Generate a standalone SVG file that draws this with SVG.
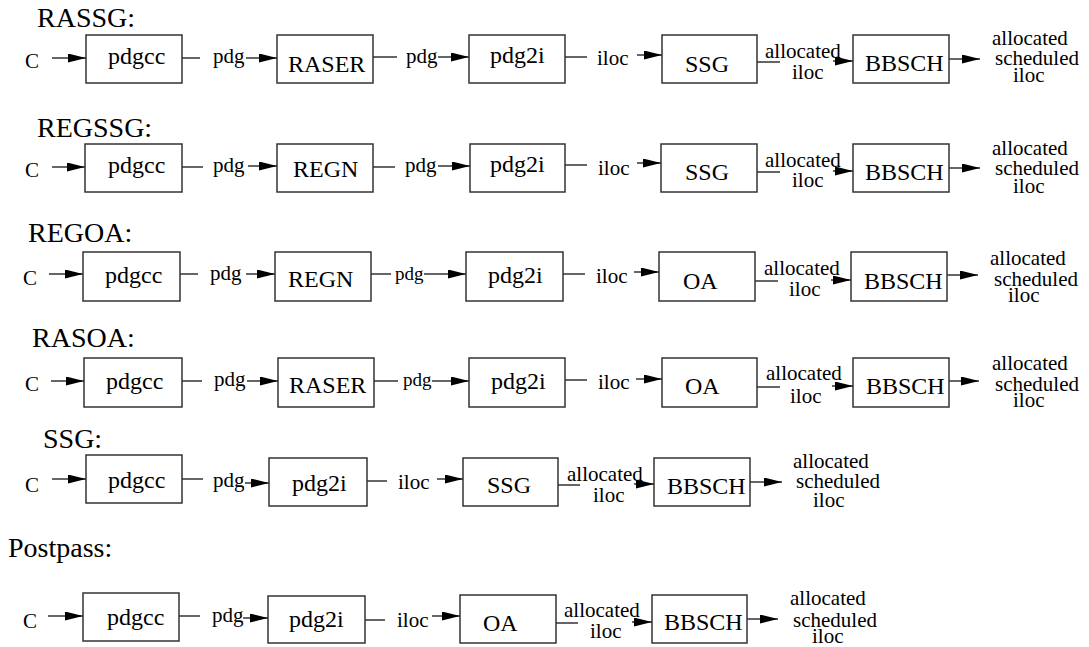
<svg xmlns="http://www.w3.org/2000/svg" width="1089" height="647" viewBox="0 0 1089 647">
<style>
text{font-family:"Liberation Serif","Times New Roman",serif;fill:#000}
.t{font-size:28px}
.n{font-size:24px}
.l{font-size:21px}
.s{font-size:19px}
rect{fill:#fff;stroke:#333;stroke-width:1.5}
.c line,.c path{stroke:#333;stroke-width:1.5;fill:none}
.a{marker-end:url(#ah)}
</style>
<defs>
<marker id="ah" markerWidth="18" markerHeight="9" refX="18" refY="4.5" orient="auto" markerUnits="userSpaceOnUse">
<path d="M0,0 L18,4.5 L0,9 z" fill="#000"/>
</marker>
</defs>
<rect x="0" y="0" width="1089" height="647" style="stroke:none;fill:#fff"/>

<!-- titles -->
<g id="titles">
<text class="t" x="37" y="27">RASSG:</text>
<text class="t" x="37" y="137">REGSSG:</text>
<text class="t" x="28" y="242">REGOA:</text>
<text class="t" x="32" y="347">RASOA:</text>
<text class="t" x="43" y="448">SSG:</text>
<text class="t" x="8" y="557">Postpass:</text>
</g>

<!-- Row 1 RASSG -->
<g id="r1-pdgcc"><rect x="86" y="35" width="96" height="48"/><text class="n" x="108" y="64">pdgcc</text></g>
<g id="r1-raser"><rect x="277" y="35" width="96" height="48"/><text class="n" x="288" y="72">RASER</text></g>
<g id="r1-pdg2i"><rect x="469" y="35" width="96" height="48"/><text class="n" x="490" y="63">pdg2i</text></g>
<g id="r1-ssg"><rect x="662" y="35" width="95" height="48"/><text class="n" x="685" y="72">SSG</text></g>
<g id="r1-bbsch"><rect x="853" y="35" width="96" height="48"/><text class="n" x="865" y="71">BBSCH</text></g>

<!-- Row 2 REGSSG -->
<g id="r2-pdgcc"><rect x="85" y="144" width="97" height="48"/><text class="n" x="108" y="173">pdgcc</text></g>
<g id="r2-regn"><rect x="277" y="144" width="96" height="48"/><text class="n" x="293" y="177">REGN</text></g>
<g id="r2-pdg2i"><rect x="470" y="144" width="95" height="48"/><text class="n" x="490" y="172">pdg2i</text></g>
<g id="r2-ssg"><rect x="661" y="144" width="96" height="48"/><text class="n" x="685" y="180">SSG</text></g>
<g id="r2-bbsch"><rect x="853" y="144" width="96" height="48"/><text class="n" x="865" y="180">BBSCH</text></g>

<!-- Row 3 REGOA -->
<g id="r3-pdgcc"><rect x="83" y="252" width="97" height="49"/><text class="n" x="105" y="283">pdgcc</text></g>
<g id="r3-regn"><rect x="275" y="252" width="96" height="49"/><text class="n" x="288" y="287">REGN</text></g>
<g id="r3-pdg2i"><rect x="466" y="252" width="97" height="49"/><text class="n" x="488" y="283">pdg2i</text></g>
<g id="r3-oa"><rect x="659" y="252" width="96" height="49"/><text class="n" x="683" y="289">OA</text></g>
<g id="r3-bbsch"><rect x="851" y="252" width="96" height="49"/><text class="n" x="864" y="289">BBSCH</text></g>

<!-- Row 4 RASOA -->
<g id="r4-pdgcc"><rect x="84" y="358" width="98" height="49"/><text class="n" x="106" y="389">pdgcc</text></g>
<g id="r4-raser"><rect x="278" y="358" width="96" height="49"/><text class="n" x="289" y="393">RASER</text></g>
<g id="r4-pdg2i"><rect x="469" y="358" width="96" height="49"/><text class="n" x="491" y="389">pdg2i</text></g>
<g id="r4-oa"><rect x="662" y="358" width="95" height="49"/><text class="n" x="685" y="394">OA</text></g>
<g id="r4-bbsch"><rect x="853" y="358" width="96" height="49"/><text class="n" x="866" y="394">BBSCH</text></g>

<!-- Row 5 SSG -->
<g id="r5-pdgcc"><rect x="86" y="455" width="96" height="48"/><text class="n" x="108" y="488">pdgcc</text></g>
<g id="r5-pdg2i"><rect x="269" y="458" width="98" height="48"/><text class="n" x="292" y="491">pdg2i</text></g>
<g id="r5-ssg"><rect x="463" y="458" width="95" height="48"/><text class="n" x="487" y="493">SSG</text></g>
<g id="r5-bbsch"><rect x="654" y="458" width="96" height="48"/><text class="n" x="667" y="494">BBSCH</text></g>

<!-- Row 6 Postpass -->
<g id="r6-pdgcc"><rect x="83" y="593" width="96" height="48"/><text class="n" x="107" y="625">pdgcc</text></g>
<g id="r6-pdg2i"><rect x="268" y="596" width="97" height="47"/><text class="n" x="289" y="627">pdg2i</text></g>
<g id="r6-oa"><rect x="460" y="595" width="96" height="48"/><text class="n" x="483" y="631">OA</text></g>
<g id="r6-bbsch"><rect x="652" y="595" width="95" height="48"/><text class="n" x="664" y="630">BBSCH</text></g>

<!-- connectors -->
<g id="connectors" class="c">
<!-- row 1 -->
<text class="l" x="25" y="68">C</text>
<line class="a" x1="52" y1="58" x2="86" y2="58"/>
<line x1="182" y1="58" x2="200" y2="58"/>
<text class="l" x="213" y="63">pdg</text>
<line class="a" x1="246" y1="58" x2="277" y2="58"/>
<line x1="373" y1="57" x2="397" y2="57"/>
<text class="l" x="406" y="63">pdg</text>
<line class="a" x1="438" y1="57" x2="469" y2="57"/>
<line x1="565" y1="57" x2="587" y2="57"/>
<text class="l" x="597" y="65">iloc</text>
<line class="a" x1="637" y1="55" x2="662" y2="55"/>
<line x1="757" y1="62" x2="780" y2="62"/>
<text class="l" x="765" y="58">allocated</text>
<text class="l" x="792" y="79">iloc</text>
<line class="a" x1="833" y1="61" x2="853" y2="61"/>
<line class="a" x1="949" y1="59" x2="980" y2="59"/>
<text class="l" x="992" y="45">allocated</text>
<text class="l" x="995" y="65">scheduled</text>
<text class="l" x="1013" y="82">iloc</text>

<!-- row 2 -->
<text class="l" x="25" y="177">C</text>
<line class="a" x1="52" y1="167" x2="85" y2="167"/>
<line x1="182" y1="167" x2="203" y2="167"/>
<text class="l" x="213" y="172">pdg</text>
<line class="a" x1="248" y1="166" x2="277" y2="166"/>
<line x1="373" y1="167" x2="395" y2="167"/>
<text class="l" x="405" y="172">pdg</text>
<line class="a" x1="438" y1="166" x2="470" y2="166"/>
<line x1="565" y1="165" x2="587" y2="165"/>
<text class="l" x="598" y="175">iloc</text>
<line class="a" x1="637" y1="163" x2="661" y2="163"/>
<line x1="757" y1="172" x2="780" y2="172"/>
<text class="l" x="765" y="167">allocated</text>
<text class="l" x="792" y="187">iloc</text>
<line class="a" x1="833" y1="171" x2="853" y2="171"/>
<line class="a" x1="949" y1="168" x2="980" y2="168"/>
<text class="l" x="992" y="155">allocated</text>
<text class="l" x="995" y="175">scheduled</text>
<text class="l" x="1013" y="193">iloc</text>

<!-- row 3 -->
<text class="l" x="23" y="285">C</text>
<line class="a" x1="49" y1="274" x2="83" y2="274"/>
<line x1="180" y1="274" x2="198" y2="274"/>
<text class="l" x="210" y="280">pdg</text>
<line class="a" x1="246" y1="274" x2="275" y2="274"/>
<line x1="371" y1="274" x2="391" y2="274"/>
<text class="s" x="395" y="280">pdg</text>
<line class="a" x1="424" y1="274" x2="466" y2="274"/>
<line x1="563" y1="274" x2="585" y2="274"/>
<text class="l" x="596" y="283">iloc</text>
<line class="a" x1="634" y1="272" x2="659" y2="272"/>
<line x1="755" y1="281" x2="778" y2="281"/>
<text class="l" x="764" y="275">allocated</text>
<text class="l" x="789" y="296">iloc</text>
<line class="a" x1="831" y1="280" x2="851" y2="280"/>
<line class="a" x1="947" y1="275" x2="978" y2="275"/>
<text class="l" x="990" y="265">allocated</text>
<text class="l" x="994" y="286">scheduled</text>
<text class="l" x="1008" y="302">iloc</text>

<!-- row 4 -->
<text class="l" x="25" y="391">C</text>
<line class="a" x1="51" y1="381" x2="84" y2="381"/>
<line x1="182" y1="381" x2="202" y2="381"/>
<text class="l" x="214" y="386">pdg</text>
<line class="a" x1="247" y1="381" x2="278" y2="381"/>
<line x1="374" y1="381" x2="398" y2="381"/>
<text class="s" x="403" y="386">pdg</text>
<line class="a" x1="432" y1="381" x2="469" y2="381"/>
<line x1="565" y1="380" x2="587" y2="380"/>
<text class="l" x="598" y="389">iloc</text>
<line class="a" x1="636" y1="379" x2="662" y2="379"/>
<line x1="757" y1="387" x2="780" y2="387"/>
<text class="l" x="766" y="380">allocated</text>
<text class="l" x="790" y="403">iloc</text>
<line class="a" x1="832" y1="386" x2="853" y2="386"/>
<line class="a" x1="949" y1="381" x2="979" y2="381"/>
<text class="l" x="992" y="370">allocated</text>
<text class="l" x="995" y="391">scheduled</text>
<text class="l" x="1013" y="407">iloc</text>

<!-- row 5 -->
<text class="l" x="25" y="492">C</text>
<line class="a" x1="52" y1="479" x2="86" y2="479"/>
<line x1="182" y1="479" x2="203" y2="479"/>
<text class="l" x="213" y="487">pdg</text>
<line class="a" x1="245" y1="483" x2="269" y2="483"/>
<line x1="367" y1="481" x2="387" y2="481"/>
<text class="l" x="398" y="489">iloc</text>
<line class="a" x1="437" y1="479" x2="463" y2="479"/>
<line x1="558" y1="485" x2="580" y2="485"/>
<text class="l" x="567" y="481">allocated</text>
<text class="l" x="593" y="502">iloc</text>
<line class="a" x1="634" y1="484" x2="654" y2="484"/>
<line class="a" x1="750" y1="482" x2="782" y2="482"/>
<text class="l" x="793" y="468">allocated</text>
<text class="l" x="796" y="488">scheduled</text>
<text class="l" x="813" y="507">iloc</text>

<!-- row 6 -->
<text class="l" x="23" y="628">C</text>
<line class="a" x1="48" y1="616" x2="83" y2="616"/>
<line x1="179" y1="616" x2="200" y2="616"/>
<text class="l" x="212" y="622">pdg</text>
<line class="a" x1="243" y1="618" x2="268" y2="618"/>
<line x1="365" y1="620" x2="385" y2="620"/>
<text class="l" x="397" y="627">iloc</text>
<line class="a" x1="432" y1="616" x2="460" y2="616"/>
<line x1="556" y1="623" x2="578" y2="623"/>
<text class="l" x="564" y="617">allocated</text>
<text class="l" x="590" y="638">iloc</text>
<line class="a" x1="632" y1="622" x2="652" y2="622"/>
<line class="a" x1="747" y1="619" x2="778" y2="619"/>
<text class="l" x="790" y="605">allocated</text>
<text class="l" x="793" y="627">scheduled</text>
<text class="l" x="812" y="643">iloc</text>
</g>
</svg>
